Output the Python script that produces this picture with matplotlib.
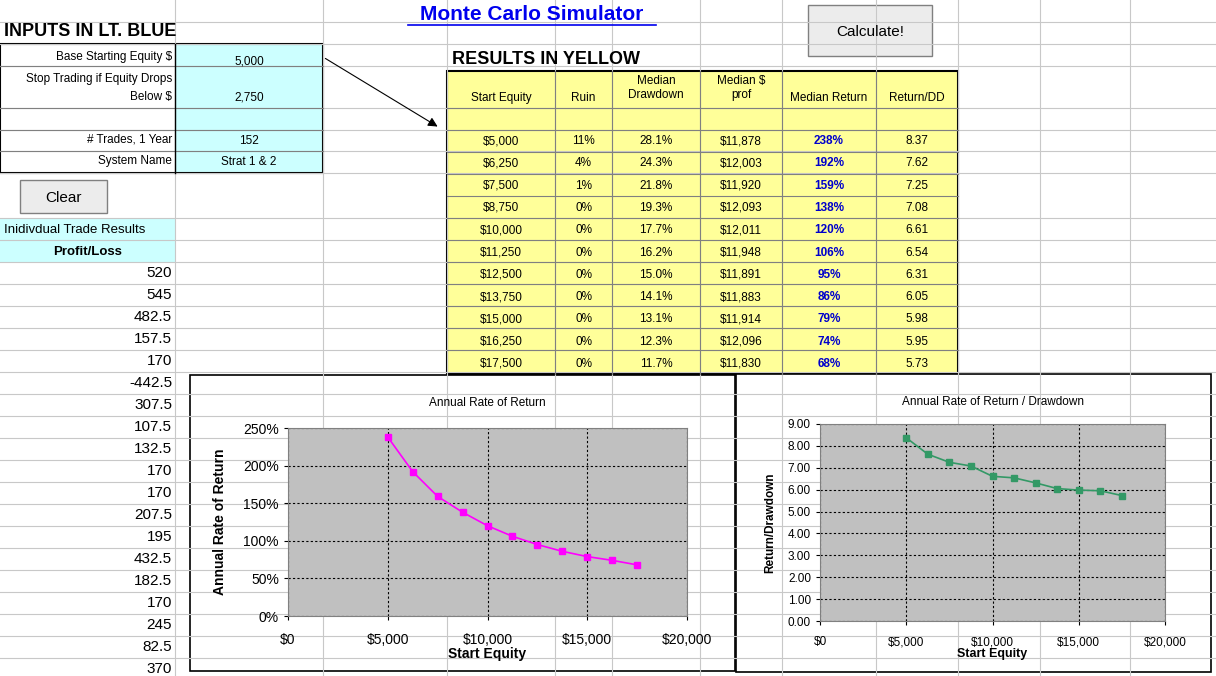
import matplotlib.pyplot as plt
from matplotlib.patches import Rectangle
from matplotlib.ticker import FuncFormatter, MultipleLocator

plt.rcParams['font.family'] = ['Liberation Sans', 'DejaVu Sans']

start_equity = [5000, 6250, 7500, 8750, 10000, 11250, 12500, 13750, 15000, 16250, 17500]
ruin = ['11%', '4%', '1%', '0%', '0%', '0%', '0%', '0%', '0%', '0%', '0%']
drawdown = ['28.1%', '24.3%', '21.8%', '19.3%', '17.7%', '16.2%', '15.0%', '14.1%', '13.1%', '12.3%', '11.7%']
median_prof = ['$11,878', '$12,003', '$11,920', '$12,093', '$12,011', '$11,948', '$11,891',
               '$11,883', '$11,914', '$12,096', '$11,830']
median_return = [238, 192, 159, 138, 120, 106, 95, 86, 79, 74, 68]
return_dd = [8.37, 7.62, 7.25, 7.08, 6.61, 6.54, 6.31, 6.05, 5.98, 5.95, 5.73]
trades = ['520', '545', '482.5', '157.5', '170', '-442.5', '307.5', '107.5', '132.5', '170',
          '170', '207.5', '195', '432.5', '182.5', '170', '245', '82.5', '370']

W, H = 1216, 676
fig = plt.figure(figsize=(W / 100, H / 100), dpi=100)
bg = fig.add_axes([0, 0, 1, 1])
bg.set_xlim(0, W)
bg.set_ylim(H, 0)
bg.axis('off')

grid = '#c8c8c8'
cols = [175, 323, 447, 555, 612, 700, 782, 876, 958, 1040, 1130]
rows = [22, 44, 66, 108, 130, 151, 173, 218, 240] + [262 + 22 * i for i in range(19)]
for x in cols:
    bg.plot([x, x], [0, H], color=grid, lw=0.8)
for y in rows:
    bg.plot([0, W], [y, y], color=grid, lw=0.8)

blue = '#ccffff'
yellow = '#ffff99'
# input block
bg.add_patch(Rectangle((175, 44), 148, 129, fc=blue, ec='none'))
for y in [66, 108, 130, 151]:
    bg.plot([0, 323], [y, y], color='#808080', lw=0.8)
bg.add_patch(Rectangle((0, 44), 323, 129, fc='none', ec='black', lw=1.5))
bg.plot([175, 175], [44, 173], color='black', lw=1)
bg.text(4, 32, 'INPUTS IN LT. BLUE', fontsize=13, fontweight='bold', va='center')
labels = [('Base Starting Equity $', 57), ('Stop Trading if Equity Drops', 79),
          ('Below $', 97), ('# Trades, 1 Year', 140), ('System Name', 161)]
for t, y in labels:
    bg.text(172, y, t, fontsize=8.5, ha='right', va='center')
for t, y in [('5,000', 62), ('2,750', 98), ('152', 141), ('Strat 1 & 2', 162)]:
    bg.text(249, y, t, fontsize=8.5, ha='center', va='center')

# buttons
for (x, y, w, h, t) in [(20, 180, 87, 33, 'Clear'), (808, 5, 124, 51, 'Calculate!')]:
    bg.add_patch(Rectangle((x, y), w, h, fc='#ececec', ec='#808080', lw=1))
    bg.text(x + w / 2, y + h / 2 + 1, t, fontsize=11, ha='center', va='center')

bg.text(532, 14, 'Monte Carlo Simulator', fontsize=15, fontweight='bold', color='#0000ee',
        ha='center', va='center')
bg.plot([408, 656], [25, 25], color='#0000ee', lw=1.2)

bg.add_patch(Rectangle((0, 218), 175, 44, fc=blue, ec='none'))
bg.text(4, 230, 'Inidivdual Trade Results', fontsize=9.5, va='center')
bg.text(88, 252, 'Profit/Loss', fontsize=9.5, fontweight='bold', ha='center', va='center')
for i, t in enumerate(trades):
    bg.text(172, 273 + 22 * i, t, fontsize=11, ha='right', va='center')

# results table
bg.text(452, 59, 'RESULTS IN YELLOW', fontsize=13, fontweight='bold', va='center')
bg.add_patch(Rectangle((447, 71), 511, 303, fc=yellow, ec='black', lw=1.5))
tcols = [447, 555, 612, 700, 782, 876, 958]
for x in tcols[1:-1]:
    bg.plot([x, x], [71, 374], color='#808080', lw=0.8)
for y in [108, 130] + [152 + 22 * i for i in range(10)]:
    bg.plot([447, 958], [y, y], color='#808080', lw=0.8)
heads = ['Start Equity', 'Ruin', 'Median\nDrawdown', 'Median $\nprof', 'Median Return', 'Return/DD']
hy = [98, 98, 88, 88, 98, 98]
for i, h in enumerate(heads):
    bg.text((tcols[i] + tcols[i + 1]) / 2, hy[i], h, fontsize=8.5, ha='center', va='center',
            linespacing=1.3)
for r in range(len(start_equity)):
    y = 141 + 22.3 * r
    vals = [f'${start_equity[r]:,}', ruin[r], drawdown[r], median_prof[r],
            f'{median_return[r]}%', f'{return_dd[r]:.2f}']
    for i, v in enumerate(vals):
        kw = dict(color='#0000cc', fontweight='bold') if i == 4 else {}
        bg.text((tcols[i] + tcols[i + 1]) / 2, y, v, fontsize=8.5, ha='center', va='center', **kw)

bg.annotate('', xy=(440, 128), xytext=(323, 57),
            arrowprops=dict(arrowstyle='-|>', color='black', lw=0.8, mutation_scale=14))

# chart frames
for (x, y, w, h) in [(190, 375, 545, 296), (736, 374, 475, 298)]:
    bg.add_patch(Rectangle((x, y), w, h, fc='white', ec='black', lw=1.2))


def frac(x0, y0, x1, y1):
    return [x0 / W, 1 - y1 / H, (x1 - x0) / W, (y1 - y0) / H]


money = FuncFormatter(lambda v, p: f'${v:,.0f}')


def style(ax):
    ax.set_facecolor('#c0c0c0')
    ax.set_xlim(0, 20000)
    ax.xaxis.set_major_locator(MultipleLocator(5000))
    ax.xaxis.set_major_formatter(money)
    ax.grid(True, color='black', ls=(0, (2, 2)), lw=0.8)
    for s in ax.spines.values():
        s.set_color('#808080')
    ax.tick_params(labelsize=9, length=3)


ax1 = fig.add_axes(frac(288, 428, 687, 616))
style(ax1)
ax1.plot(start_equity, median_return, color='#ff00ff', marker='s', ms=5, lw=1.2)
ax1.set_ylim(0, 250)
ax1.yaxis.set_major_locator(MultipleLocator(50))
ax1.yaxis.set_major_formatter(FuncFormatter(lambda v, p: f'{v:.0f}%'))
ax1.tick_params(axis='x', pad=9, labelsize=10)
ax1.tick_params(axis='y', labelsize=10)
ax1.set_xlabel('Start Equity', fontsize=10, fontweight='bold', labelpad=0)
ax1.set_ylabel('Annual Rate of Return', fontsize=10, fontweight='bold', labelpad=12)
ax1.set_title('Annual Rate of Return', fontsize=8.5, pad=16)

ax2 = fig.add_axes(frac(820, 424, 1165, 621))
style(ax2)
ax2.plot(start_equity, return_dd, color='#339966', marker='s', ms=5, lw=1.2)
ax2.set_ylim(0, 9)
ax2.yaxis.set_major_locator(MultipleLocator(1))
ax2.yaxis.set_major_formatter(FuncFormatter(lambda v, p: f'{v:.2f}'))
ax2.tick_params(labelsize=8.5)
ax2.tick_params(axis='x', pad=8)
ax2.set_xlabel('Start Equity', fontsize=9, fontweight='bold', labelpad=0)
ax2.set_ylabel('Return/Drawdown', fontsize=8.5, fontweight='bold', labelpad=8)
ax2.set_title('Annual Rate of Return / Drawdown', fontsize=8.5, pad=14)

fig.savefig('out.png', dpi=100)
